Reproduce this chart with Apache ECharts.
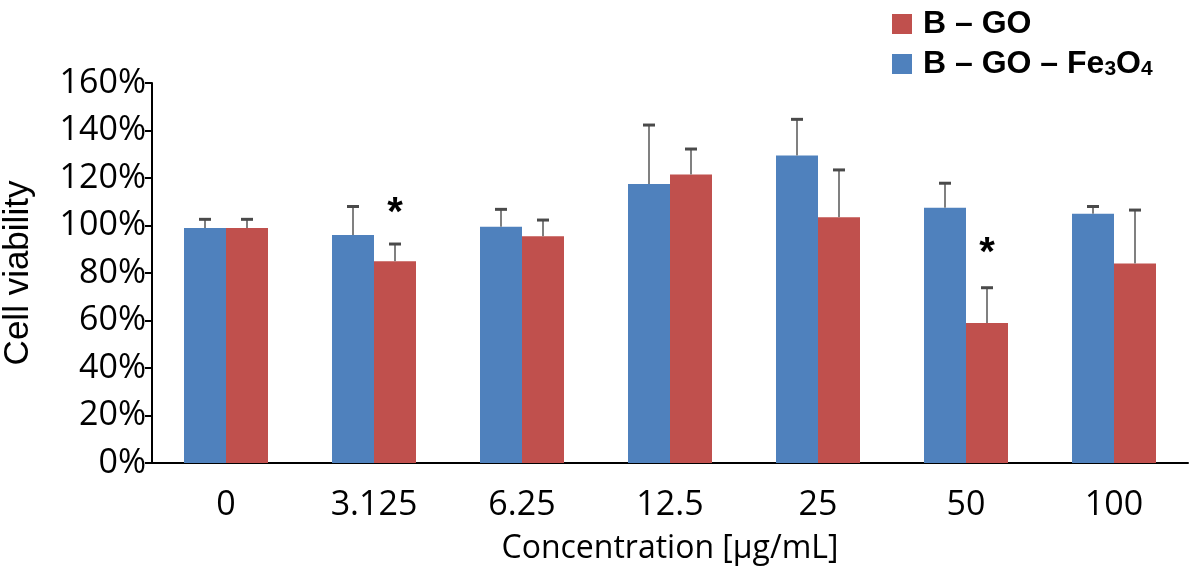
<!DOCTYPE html>
<html>
<head>
<meta charset="utf-8">
<script src="https://cdn.jsdelivr.net/npm/echarts@6/dist/echarts.min.js"></script>
<style>
html,body{margin:0;padding:0;background:#fff;}
#chart{width:1200px;height:577px;}
</style>
</head>
<body>
<div id="chart"></div>
<script>
var categories = ['0', '3.125', '6.25', '12.5', '25', '50', '100'];
var yTicks = [0, 20, 40, 60, 80, 100, 120, 140, 160];
var feValues = [99, 96, 99.5, 117.5, 129.5, 107.5, 105];
var feErrors = [3.6, 12, 7.3, 24.8, 15.2, 10.3, 3];
var goValues = [99, 85, 95.5, 121.5, 103.5, 59, 84];
var goErrors = [3.6, 7.2, 6.8, 10.7, 19.9, 14.8, 22.5];
var starCats = [1, 5];
var starValues = [105, 88];

var NAME_GO = 'B – GO';
var NAME_FE = 'B – GO – Fe3O4';
var BAR_W = 42;

function errData(vals, errs) {
  return vals.map(function (v, i) { return [i, v, errs[i]]; });
}

function errRender(offset) {
  return function (params, api) {
    var c = api.value(0), v = api.value(1), e = api.value(2);
    var p0 = api.coord([c, v]);
    var p1 = api.coord([c, v + e]);
    var x = p0[0] + offset;
    return {
      type: 'group',
      children: [
        { type: 'line', shape: { x1: x, y1: p0[1], x2: x, y2: p1[1] },
          style: { stroke: '#808080', lineWidth: 2 } },
        { type: 'line', shape: { x1: x - 6, y1: p1[1], x2: x + 6, y2: p1[1] },
          style: { stroke: '#4a4a4a', lineWidth: 3 } }
      ]
    };
  };
}

var chart = echarts.init(document.getElementById('chart'));
chart.setOption({
  animation: false,
  backgroundColor: '#fff',
  grid: { left: 152, right: 12, top: 83, bottom: 114, containLabel: false, outerBoundsMode: 'none' },
  legend: {
    orient: 'vertical',
    left: 892, top: 8,
    padding: 0,
    data: [NAME_GO, NAME_FE],
    icon: 'rect',
    itemWidth: 20, itemHeight: 20,
    itemGap: 8,
    formatter: function (n) {
      if (n === NAME_FE) return '{b|B – GO – Fe}{s|3}{b|O}{s|4}';
      return '{b|' + n + '}';
    },
    textStyle: {
      padding: [0, 0, 0, 6],
      rich: {
        b: { fontFamily: 'Liberation Sans', fontWeight: 'bold', fontSize: 32, color: '#000', lineHeight: 32 },
        s: { fontFamily: 'Liberation Sans', fontWeight: 'bold', fontSize: 21, color: '#000', lineHeight: 32, verticalAlign: 'bottom', padding: [9, 0, 0, 0] }
      }
    }
  },
  xAxis: {
    type: 'category',
    data: categories,
    name: 'Concentration [μg/mL]',
    nameLocation: 'middle',
    nameGap: 70,
    nameTextStyle: { fontFamily: 'Open Sans', fontSize: 32, color: '#000' },
    axisLine: { lineStyle: { color: '#000', width: 2 } },
    axisTick: { length: 9, lineStyle: { color: '#000', width: 2 } },
    axisLabel: { fontFamily: 'Open Sans', fontSize: 34, color: '#000', margin: 25 }
  },
  yAxis: {
    type: 'value',
    min: yTicks[0], max: yTicks[yTicks.length - 1], interval: 20,
    name: 'Cell viability',
    nameLocation: 'middle',
    nameRotate: 90,
    nameGap: 116,
    nameTextStyle: { fontFamily: 'Liberation Sans', fontSize: 35, color: '#000' },
    axisLine: { show: true, lineStyle: { color: '#000', width: 2 } },
    axisTick: { show: true, length: 7, lineStyle: { color: '#000', width: 2 } },
    splitLine: { show: false },
    axisLabel: { fontFamily: 'Open Sans', fontSize: 34, color: '#000', margin: 6, formatter: '{value}%' }
  },
  series: [
    { name: NAME_FE, type: 'bar', data: feValues, barWidth: BAR_W, barGap: '0%',
      itemStyle: { color: '#4F81BD' } },
    { name: NAME_GO, type: 'bar', data: goValues, barWidth: BAR_W, barGap: '0%',
      itemStyle: { color: '#C0504D' } },
    { type: 'custom', name: 'errFe', data: errData(feValues, feErrors), renderItem: errRender(-BAR_W / 2),
      encode: { x: 0, y: [1, 2] }, z: 5, silent: true },
    { type: 'custom', name: 'errGo', data: errData(goValues, goErrors), renderItem: errRender(BAR_W / 2),
      encode: { x: 0, y: [1, 2] }, z: 5, silent: true },
    { type: 'custom', name: 'stars',
      data: starCats.map(function (c, i) { return [c, starValues[i]]; }),
      encode: { x: 0, y: 1 }, z: 6, silent: true,
      renderItem: function (params, api) {
        var p = api.coord([api.value(0), api.value(1)]);
        return { type: 'text', x: p[0] + BAR_W / 2, y: p[1],
          style: { text: '*', fontFamily: 'Liberation Sans', fontWeight: 'bold', fontSize: 40,
            fill: '#000', align: 'center', verticalAlign: 'middle' } };
      }
    }
  ]
});
</script>
</body>
</html>
